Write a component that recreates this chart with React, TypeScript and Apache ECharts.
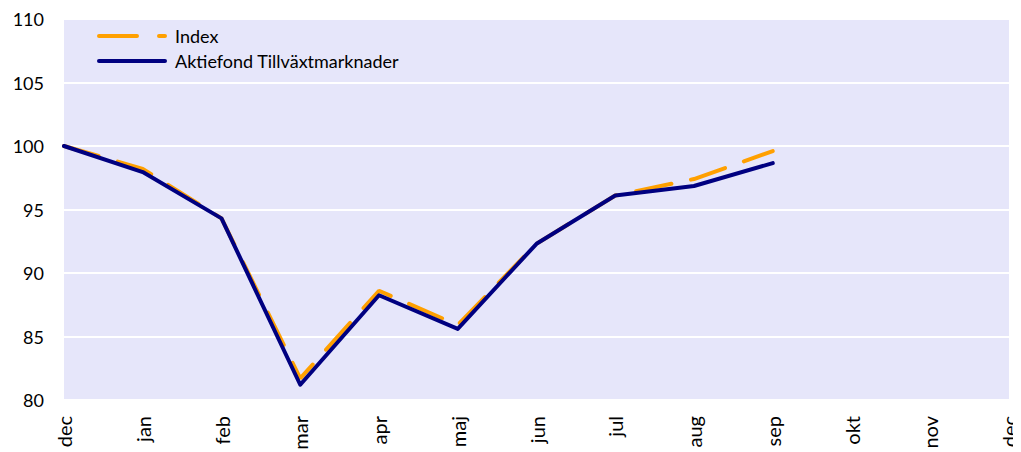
import React, { useEffect, useRef } from "react";
import * as echarts from "echarts";

const categories = ["dec", "jan", "feb", "mar", "apr", "maj", "jun", "jul", "aug", "sep", "okt", "nov", "dec"];
const indexValues = [100, 98.2, 94.3, 81.7, 88.6, 85.9, 92.3, 96.1, 97.4, 99.6];
const fundValues = [100, 97.95, 94.3, 81.2, 88.25, 85.6, 92.3, 96.1, 96.85, 98.65];
const seriesNames = ["Index", "Aktiefond Tillväxtmarknader"];
const yTicks = { min: 80, max: 110, interval: 5 };

const FONT = "Lato";
const ORANGE = "#FFA000";
const NAVY = "#000080";

export default function App() {
  const ref = useRef<HTMLDivElement>(null);
  useEffect(() => {
    if (!ref.current) return;
    const chart = echarts.init(ref.current, undefined, { renderer: "svg" });
    chart.setOption({
      animation: false,
      grid: {
        left: 56,
        right: 12,
        top: 11,
        bottom: 52,
        backgroundColor: "#E6E6FA",
        show: true,
        borderWidth: 0,
        containLabel: false,
        outerBoundsMode: "none",
      },
      graphic: [
        {
          type: "line",
          shape: { x1: 91, y1: 28, x2: 157, y2: 28 },
          style: { stroke: ORANGE, lineWidth: 4, lineDash: [38, 22], lineCap: "round" },
          z: 10,
        },
        {
          type: "text",
          x: 167,
          y: 28,
          style: { text: seriesNames[0], fontFamily: FONT, fontSize: 18, fill: "#000", verticalAlign: "middle" },
          z: 10,
        },
        {
          type: "line",
          shape: { x1: 91, y1: 53, x2: 157, y2: 53 },
          style: { stroke: NAVY, lineWidth: 4, lineCap: "round" },
          z: 10,
        },
        {
          type: "text",
          x: 167,
          y: 53,
          style: { text: seriesNames[1], fontFamily: FONT, fontSize: 18, fill: "#000", verticalAlign: "middle" },
          z: 10,
        },
      ],
      xAxis: {
        type: "category",
        data: categories,
        boundaryGap: false,
        axisLine: { show: false },
        axisTick: { show: false },
        splitLine: { show: false },
        axisLabel: { rotate: 90, fontFamily: FONT, fontSize: 20, color: "#000", margin: 16, interval: 0 },
      },
      yAxis: {
        type: "value",
        min: yTicks.min,
        max: yTicks.max,
        interval: yTicks.interval,
        axisLine: { show: false },
        axisTick: { show: false },
        splitLine: { lineStyle: { color: "#FFFFFF", width: 2 } },
        axisLabel: { fontFamily: FONT, fontSize: 18, color: "#000", margin: 20 },
      },
      series: [
        {
          name: seriesNames[0],
          type: "line",
          data: indexValues,
          symbol: "none",
          lineStyle: { color: ORANGE, width: 4, type: [36, 20], cap: "round" },
          itemStyle: { color: ORANGE },
          z: 2,
        },
        {
          name: seriesNames[1],
          type: "line",
          data: fundValues,
          symbol: "none",
          lineStyle: { color: NAVY, width: 4, cap: "round", join: "round" },
          itemStyle: { color: NAVY },
          z: 3,
        },
      ],
    });
    return () => chart.dispose();
  }, []);
  return <div ref={ref} style={{ width: 1013, height: 444 }} />;
}
